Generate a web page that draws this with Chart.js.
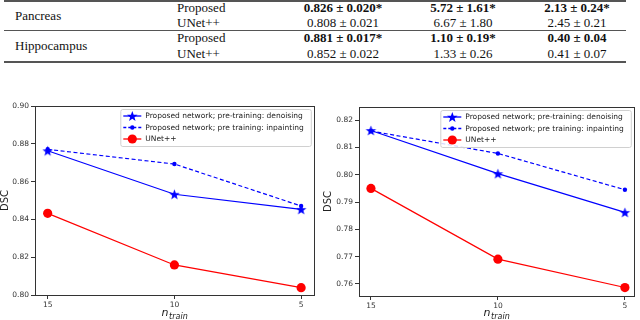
<!DOCTYPE html>
<html>
<head>
<meta charset="utf-8">
<script src="https://cdn.jsdelivr.net/npm/chart.js@4/dist/chart.umd.min.js"></script>
<style>
  body { margin: 0; background: #fff; width: 640px; height: 320px; overflow: hidden; position: relative; }
  .t { position: absolute; font-family: "Liberation Serif", "DejaVu Serif", serif; font-size: 13px; color: #111; white-space: nowrap; line-height: 14px; }
  .c { text-align: center; width: 120px; }
  .b { font-weight: bold; }
  .rule { position: absolute; left: 4px; width: 622px; background: #555; }
  .box { position: absolute; top: 95px; width: 320px; height: 225px; }
</style>
</head>
<body>
<div class="rule" style="top:0px;height:2px"></div>
<div class="rule" style="top:30px;height:1px"></div>
<div class="rule" style="top:61px;height:2px"></div>
<div id="table"></div>

<div class="box" style="left:0"><canvas id="left"></canvas></div>
<div class="box" style="left:320px"><canvas id="right"></canvas></div>

<script>
// table
const organs = ['Pancreas', 'Hippocampus'];
const methods = ['Proposed', 'UNet++'];
const tableRows = [
  ['0.826 ± 0.020*', '5.72 ± 1.61*', '2.13 ± 0.24*'],
  ['0.808 ± 0.021', '6.67 ± 1.80', '2.45 ± 0.21'],
  ['0.881 ± 0.017*', '1.10 ± 0.19*', '0.40 ± 0.04'],
  ['0.852 ± 0.022', '1.33 ± 0.26', '0.41 ± 0.07']
];

// charts
const nTrain = [15, 10, 5];
const labels = ['Proposed network; pre-training: denoising', 'Proposed network; pre training: inpainting', 'UNet++'];
const leftDenoising = [0.8763, 0.8533, 0.8453];
const leftInpainting = [0.8771, 0.8693, 0.8471];
const leftUnet = [0.8432, 0.8159, 0.8039];
const rightDenoising = [0.8162, 0.8004, 0.7862];
const rightInpainting = [0.8160, 0.8078, 0.7945];
const rightUnet = [0.7950, 0.7691, 0.7587];
const leftTicks = [0.80, 0.82, 0.84, 0.86, 0.88, 0.90];
const rightTicks = [0.76, 0.77, 0.78, 0.79, 0.80, 0.81, 0.82];

const table = document.getElementById('table');
const rowY = [1, 16, 31, 47];
const colX = [283, 403, 517];
tableRows.forEach((row, i) => {
  if (i % 2 === 0) {
    const o = document.createElement('div');
    o.className = 't';
    o.style.left = '15px';
    o.style.top = (rowY[i] + 8) + 'px';
    o.textContent = organs[i / 2];
    table.appendChild(o);
  }
  const m = document.createElement('div');
  m.className = 't';
  m.style.left = '177px';
  m.style.top = rowY[i] + 'px';
  m.textContent = methods[i % 2];
  table.appendChild(m);
  row.forEach((v, j) => {
    const d = document.createElement('div');
    d.className = 't c' + (i % 2 === 0 ? ' b' : '');
    d.style.left = colX[j] + 'px';
    d.style.top = rowY[i] + 'px';
    d.textContent = v;
    table.appendChild(d);
  });
});

const BLUE = '#0000ff';
const RED = '#ff0000';

function starPath(ctx, cx, cy, r) {
  ctx.beginPath();
  for (let i = 0; i < 10; i++) {
    const rr = i % 2 === 0 ? r : r * 0.42;
    const a = -Math.PI / 2 + i * Math.PI / 5;
    const px = cx + rr * Math.cos(a), py = cy + rr * Math.sin(a);
    if (i === 0) ctx.moveTo(px, py); else ctx.lineTo(px, py);
  }
  ctx.closePath();
}

function starImage(r) {
  const c = document.createElement('canvas');
  c.width = c.height = Math.ceil(r * 2 + 2);
  const ctx = c.getContext('2d');
  starPath(ctx, c.width / 2, c.height / 2 + 0.5, r);
  ctx.fillStyle = BLUE;
  ctx.fill();
  return c;
}
const star = starImage(5.5);

function marker(ctx, kind, x, y) {
  if (kind === 0) {
    starPath(ctx, x, y + 0.5, 5.5);
    ctx.fillStyle = BLUE; ctx.fill();
  } else if (kind === 1) {
    ctx.beginPath(); ctx.arc(x, y, 2.2, 0, Math.PI * 2);
    ctx.fillStyle = BLUE; ctx.fill();
  } else {
    ctx.beginPath(); ctx.arc(x, y, 4.6, 0, Math.PI * 2);
    ctx.fillStyle = RED; ctx.fill();
  }
}

const framePlugin = {
  id: 'frame',
  afterDraw(chart, args, opts) {
    const a = chart.chartArea;
    const ctx = chart.ctx;
    ctx.save();
    ctx.strokeStyle = '#333';
    ctx.lineWidth = 1;
    ctx.strokeRect(Math.round(a.left) + 0.5, Math.round(a.top) + 0.5, Math.round(a.right - a.left), Math.round(a.bottom - a.top));

    // axis titles
    ctx.fillStyle = '#222';
    ctx.font = '10px "DejaVu Sans"';
    ctx.textAlign = 'center';
    ctx.textBaseline = 'middle';
    ctx.save();
    ctx.translate(opts.dscX, (a.top + a.bottom) / 2);
    ctx.rotate(-Math.PI / 2);
    ctx.fillText('DSC', 0, 0);
    ctx.restore();
    ctx.textBaseline = 'alphabetic';
    ctx.textAlign = 'left';
    const cx = (a.left + a.right) / 2;
    ctx.font = 'italic 11px "DejaVu Sans"';
    const nw = ctx.measureText('n').width;
    ctx.font = 'italic 8px "DejaVu Sans"';
    const sw = ctx.measureText('train').width;
    const sx = cx - (nw + sw) / 2;
    ctx.font = 'italic 11px "DejaVu Sans"';
    ctx.fillText('n', sx, 221);
    ctx.font = 'italic 8px "DejaVu Sans"';
    ctx.fillText('train', sx + nw + 0.5, 224);

    // legend box in upper right
    ctx.font = '7.5px "DejaVu Sans"';
    ctx.textAlign = 'left';
    const tw = Math.max(...labels.map(l => ctx.measureText(l).width));
    const w = tw + 32, h = 37;
    const x0 = a.right - 3 - w, y0 = a.top + 3;
    ctx.beginPath();
    ctx.roundRect(x0 + 0.5, y0 + 0.5, w, h, 2);
    ctx.fillStyle = 'rgba(255,255,255,0.85)';
    ctx.fill();
    ctx.strokeStyle = '#d0d0d0';
    ctx.stroke();
    labels.forEach((l, i) => {
      const y = y0 + 7 + i * 11.5;
      ctx.beginPath();
      ctx.strokeStyle = i === 2 ? RED : BLUE;
      ctx.lineWidth = 1.3;
      ctx.setLineDash(i === 1 ? [3, 2] : []);
      ctx.moveTo(x0 + 3, y);
      ctx.lineTo(x0 + 21, y);
      ctx.stroke();
      ctx.setLineDash([]);
      marker(ctx, i, x0 + 12, y);
      ctx.fillStyle = '#222';
      ctx.textBaseline = 'middle';
      ctx.fillText(l, x0 + 25, y + 0.5);
    });
    ctx.restore();
  }
};

function makeChart(id, series, yTicks, yMin, yMax, xMin, xMax, pad) {
  const pts = vals => nTrain.map((n, i) => ({ x: n, y: vals[i] }));
  new Chart(document.getElementById(id), {
    type: 'line',
    data: {
      datasets: [
        { label: labels[0], data: pts(series[0]), borderColor: BLUE, backgroundColor: BLUE, borderWidth: 1.2,
          pointStyle: star, pointRadius: 5 },
        { label: labels[1], data: pts(series[1]), borderColor: BLUE, backgroundColor: BLUE, borderWidth: 1.2,
          borderDash: [4, 2.5], pointStyle: 'circle', pointRadius: 2.2, pointBorderWidth: 0 },
        { label: labels[2], data: pts(series[2]), borderColor: RED, backgroundColor: RED, borderWidth: 1.2,
          pointStyle: 'circle', pointRadius: 4.6, pointBorderWidth: 0 }
      ]
    },
    options: {
      responsive: false,
      animation: false,
      clip: false,
      layout: { padding: { left: 0, right: pad.right, top: pad.top, bottom: 0 } },
      plugins: { legend: { display: false }, tooltip: { enabled: false }, frame: { dscX: pad.dscX } },
      scales: {
        x: {
          type: 'linear', reverse: true, min: xMin, max: xMax,
          afterBuildTicks: s => { s.ticks = nTrain.map(v => ({ value: v })); },
          afterFit: s => { s.height = pad.xh; },
          ticks: { color: '#333', font: { family: 'DejaVu Sans', size: 7.5 }, padding: 2, maxRotation: 0 },
          grid: { display: true, drawOnChartArea: false, tickLength: 4, color: '#333' },
          border: { color: '#333' }
        },
        y: {
          min: yMin, max: yMax,
          afterBuildTicks: s => { s.ticks = yTicks.map(v => ({ value: v })); },
          afterFit: s => { s.width = pad.yw; },
          ticks: { color: '#333', font: { family: 'DejaVu Sans', size: 7.5 }, padding: 2,
            callback: v => v.toFixed(2) },
          grid: { display: true, drawOnChartArea: false, tickLength: 4, color: '#333' },
          border: { color: '#333' }
        }
      }
    },
    plugins: [framePlugin]
  });
}

function sizeCanvas(id) {
  const c = document.getElementById(id);
  c.width = 320; c.height = 225;
  c.style.width = '320px'; c.style.height = '225px';
}
sizeCanvas('left');
sizeCanvas('right');

makeChart('left', [leftDenoising, leftInpainting, leftUnet], leftTicks, 0.80, 0.90, 4.5, 15.5,
  { right: 5, top: 11, yw: 35, xh: 25, dscX: 5 });
makeChart('right', [rightDenoising, rightInpainting, rightUnet], rightTicks, 0.7556, 0.8248, 4.65, 15.47,
  { right: 5, top: 12, yw: 39, xh: 24, dscX: 8 });
</script>
</body>
</html>
